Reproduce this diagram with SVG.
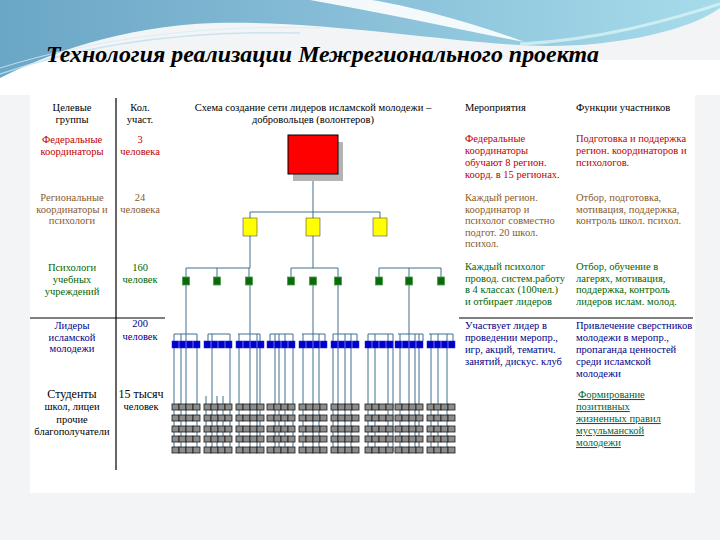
<svg xmlns="http://www.w3.org/2000/svg" width="720" height="540" viewBox="0 0 720 540">
<defs>
<linearGradient id="sky" x1="0" y1="0" x2="1" y2="0">
<stop offset="0" stop-color="#6aa6c6"/>
<stop offset="0.45" stop-color="#86bcd6"/>
<stop offset="1" stop-color="#a6dcea"/>
</linearGradient>
<style>
.t{font-size:10.5px}
.c{text-anchor:middle}
.h{fill:#000}
.r1{fill:#c00000}
.r2{fill:#8a5a2b}
.r3{fill:#006600}
.r4{fill:#000088}
.r5{fill:#000}
.u{fill:#006633;text-decoration:underline}
.ln{stroke:#3e6f8e;stroke-width:1;fill:none}
.rule{stroke:#000;stroke-width:1.2;fill:none}
.blue{fill:#0000cc;stroke:#2020e0;stroke-width:0.5}
.sep{stroke:#8c8cff;stroke-width:0.8}
.cell{fill:#8c8c8c;stroke:#1a1a1a;stroke-width:0.8}
.grn{fill:#0b6b0b;stroke:#46a046;stroke-width:0.8}
.yel{fill:#ffff00;stroke:#333;stroke-width:0.5}
</style>
</defs>
<rect x="0" y="0" width="720" height="540" fill="#f2f4f6"/>
<rect x="30" y="70" width="665" height="423" fill="#ffffff"/>
<rect x="0" y="60" width="720" height="35" fill="#ffffff"/>
<g id="header">
<path d="M0,0 H720 V8 C690,30 620,46 548,46 C470,46 330,20 215,23 C120,26 45,55 0,78 Z" fill="url(#sky)"/>
<path d="M310,0 C390,14 460,30 525,42 C470,22 410,6 372,0 Z" fill="#ffffff" opacity="0.9"/>
<path d="M520,44 C600,40 670,20 720,4" stroke="#d8f3f8" stroke-width="3" fill="none" opacity="0.8"/>
<path d="M0,74 C80,46 180,30 300,33" stroke="#bfe0ee" stroke-width="1.5" fill="none" opacity="0.8"/>
<path d="M0,68 C90,40 200,24 320,28" stroke="#d6ecf5" stroke-width="1" fill="none" opacity="0.8"/>
</g>
<text x="46" y="62" font-family="'Liberation Serif','Times New Roman',serif" font-size="23" font-weight="bold" font-style="italic" fill="#000" textLength="553" lengthAdjust="spacingAndGlyphs">Технология реализации Межрегионального проекта</text>

<g id="rules">
<line class="rule" x1="116" y1="98" x2="116" y2="470"/>
<line class="rule" x1="30" y1="318" x2="165" y2="318"/>
<line class="rule" x1="459" y1="318" x2="693" y2="318"/>
</g>

<g id="col-headers" class="t h" font-family="'Liberation Serif','Times New Roman',serif">
<text class="c" x="72" y="111">Целевые</text>
<text class="c" x="72" y="123">группы</text>
<text class="c" x="140" y="111">Кол.</text>
<text class="c" x="140" y="123">участ.</text>
<text class="c" x="313" y="111">Схема создание сети лидеров исламской молодежи –</text>
<text class="c" x="313" y="123">добровольцев (волонтеров)</text>
<text x="465" y="111">Мероприятия</text>
<text x="576" y="111">Функции участников</text>
</g>

<g id="row1" class="t r1" font-family="'Liberation Serif','Times New Roman',serif">
<text class="c" x="72" y="143">Федеральные</text>
<text class="c" x="72" y="155">координаторы</text>
<text class="c" x="140" y="143">3</text>
<text class="c" x="140" y="155">человека</text>
<text x="465" y="142">Федеральные</text>
<text x="465" y="154">координаторы</text>
<text x="465" y="166">обучают 8 регион.</text>
<text x="465" y="178">коорд. в 15 регионах.</text>
<text x="576" y="142">Подготовка и поддержка</text>
<text x="576" y="154">регион. координаторов и</text>
<text x="576" y="166">психологов.</text>
</g>

<g id="row2" class="t r2" font-family="'Liberation Serif','Times New Roman',serif">
<text class="c" x="72" y="201">Региональные</text>
<text class="c" x="72" y="212.5">координаторы и</text>
<text class="c" x="72" y="224">психологи</text>
<text class="c" x="140" y="201">24</text>
<text class="c" x="140" y="212.5">человека</text>
<text x="465" y="201">Каждый регион.</text>
<text x="465" y="212.5">координатор и</text>
<text x="465" y="224">психолог совместно</text>
<text x="465" y="235.5">подгот. 20 школ.</text>
<text x="465" y="247">психол.</text>
<text x="576" y="201">Отбор, подготовка,</text>
<text x="576" y="212.5">мотивация, поддержка,</text>
<text x="576" y="224">контроль школ. психол.</text>
</g>

<g id="row3" class="t r3" font-family="'Liberation Serif','Times New Roman',serif">
<text class="c" x="72" y="271">Психологи</text>
<text class="c" x="72" y="283">учебных</text>
<text class="c" x="72" y="295">учреждений</text>
<text class="c" x="140" y="271">160</text>
<text class="c" x="140" y="283">человек</text>
<text x="465" y="270">Каждый психолог</text>
<text x="465" y="281.5">провод. систем.работу</text>
<text x="465" y="293">в 4 классах (100чел.)</text>
<text x="465" y="304.5">и отбирает лидеров</text>
<text x="576" y="270">Отбор, обучение в</text>
<text x="576" y="281.5">лагерях, мотивация,</text>
<text x="576" y="293">поддержка, контроль</text>
<text x="576" y="304.5">лидеров ислам. молод.</text>
</g>

<g id="row4" class="t r4" font-family="'Liberation Serif','Times New Roman',serif">
<text class="c" x="72" y="329">Лидеры</text>
<text class="c" x="72" y="340.5">исламской</text>
<text class="c" x="72" y="352">молодежи</text>
<text class="c" x="140" y="327">200</text>
<text class="c" x="140" y="340">человек</text>
<text x="465" y="329">Участвует лидер в</text>
<text x="465" y="341">проведении меропр.,</text>
<text x="465" y="353">игр, акций, тематич.</text>
<text x="465" y="365">занятий, дискус. клуб</text>
<text x="576" y="329">Привлечение сверстников</text>
<text x="576" y="341">молодежи в меропр.,</text>
<text x="576" y="353">пропаганда ценностей</text>
<text x="576" y="365">среди исламской</text>
<text x="576" y="377">молодежи</text>
</g>

<g id="row5" class="t r5" font-family="'Liberation Serif','Times New Roman',serif">
<text class="c" x="72" y="398" font-size="12">Студенты</text>
<text class="c" x="72" y="410">школ, лицеи</text>
<text class="c" x="72" y="423">прочие</text>
<text class="c" x="72" y="435">благополучатели</text>
<text class="c" x="141" y="398" font-size="12">15 тысяч</text>
<text class="c" x="141" y="410">человек</text>
<text class="u" x="578" y="398">Формирование</text>
<text class="u" x="576" y="410">позитивных</text>
<text class="u" x="576" y="422">жизненных правил</text>
<text class="u" x="576" y="434">мусульманской</text>
<text class="u" x="576" y="446">молодежи</text>
</g>

<g id="connectors" class="ln">
<line x1="313" y1="181" x2="313" y2="212"/>
<line x1="250" y1="212" x2="380" y2="212"/>
<line x1="250" y1="212" x2="250" y2="218"/>
<line x1="313" y1="212" x2="313" y2="218"/>
<line x1="380" y1="212" x2="380" y2="218"/>
<line x1="250" y1="236" x2="250" y2="268"/>
<line x1="313" y1="236" x2="313" y2="268"/>
<line x1="186" y1="268" x2="250" y2="268"/>
<line x1="291" y1="268" x2="338" y2="268"/>
<line x1="379" y1="268" x2="441" y2="268"/>
<path d="M186,268V277 M217,268V277 M249,268V277 M291,268V277 M338,268V277 M379,268V277 M409,268V277 M441,268V277"/>
<path d="M186,285V334 M250,285V334 M313,285V334 M338,285V334 M409,285V334"/>
<path d="M174,334H197 M208,334H230 M238,334H260 M270,334H293 M302,334H325 M333,334H357 M368,334H393 M398,334H423 M429,334H453"/>
<path d="M174,334V452 M181,334V452 M186,334V452 M197,334V452"/>
<path d="M212,334V452 M230,334V452 M208,334V341 M206,396V452 M217,396V452 M223,396V452"/>
<path d="M239,334V452 M250,334V452 M257,334V452 M260,334V452"/>
<path d="M275,334V452 M279,334V452 M285,334V452 M293,334V452 M270,334V341"/>
<path d="M303,334V452 M313,334V452 M319,334V452 M325,334V341"/>
<path d="M333,334V452 M338,334V452 M345,334V452 M351,334V452 M357,334V341"/>
<path d="M368,334V452 M375,334V452 M388,334V452 M393,334V452"/>
<path d="M400,334V452 M409,334V452 M415,334V452 M419,334V452 M423,334V341"/>
<path d="M431,334V452 M438,334V452 M447,334V452 M453,334V341"/>
</g>

<g id="node-federal">
<rect x="293" y="142" width="50" height="39" fill="#b4b4b4"/>
<rect x="288" y="135" width="50" height="39" fill="#ff0000" stroke="#000" stroke-width="1"/>
</g>
<g id="node-regional">
<rect class="yel" x="243" y="218" width="14" height="18"/>
<rect class="yel" x="306" y="218" width="14" height="18"/>
<rect class="yel" x="373" y="218" width="14" height="18"/>
</g>
<g id="node-psychologists">
<rect class="grn" x="182.5" y="277" width="7" height="8"/>
<rect class="grn" x="213.5" y="277" width="7" height="8"/>
<rect class="grn" x="245.5" y="277" width="7" height="8"/>
<rect class="grn" x="287.5" y="277" width="7" height="8"/>
<rect class="grn" x="309.5" y="277" width="7" height="8"/>
<rect class="grn" x="334.5" y="277" width="7" height="8"/>
<rect class="grn" x="375.5" y="277" width="7" height="8"/>
<rect class="grn" x="405.5" y="277" width="7" height="8"/>
<rect class="grn" x="437.5" y="277" width="7" height="8"/>
</g>
<g id="node-leaders">
<rect class="blue" x="172" y="341" width="28" height="7"/>
<rect class="blue" x="204" y="341" width="28" height="7"/>
<rect class="blue" x="236" y="341" width="28" height="7"/>
<rect class="blue" x="267" y="341" width="28" height="7"/>
<rect class="blue" x="299" y="341" width="28" height="7"/>
<rect class="blue" x="331" y="341" width="28" height="7"/>
<rect class="blue" x="365" y="341" width="28" height="7"/>
<rect class="blue" x="395" y="341" width="28" height="7"/>
<rect class="blue" x="427" y="341" width="28" height="7"/>
<path class="sep" d="M179,341V348 M186,341V348 M193,341V348 M211,341V348 M218,341V348 M225,341V348 M243,341V348 M250,341V348 M257,341V348 M274,341V348 M281,341V348 M288,341V348 M306,341V348 M313,341V348 M320,341V348 M338,341V348 M345,341V348 M352,341V348 M372,341V348 M379,341V348 M386,341V348 M402,341V348 M409,341V348 M416,341V348 M434,341V348 M441,341V348 M448,341V348"/>
</g>
<g id="node-students">
<g id="grid-row">
<rect class="cell" x="172" y="404" width="7" height="6"/><rect class="cell" x="179" y="404" width="7" height="6"/><rect class="cell" x="186" y="404" width="7" height="6"/><rect class="cell" x="193" y="404" width="7" height="6"/>
<rect class="cell" x="204" y="404" width="7" height="6"/><rect class="cell" x="211" y="404" width="7" height="6"/><rect class="cell" x="218" y="404" width="7" height="6"/><rect class="cell" x="225" y="404" width="7" height="6"/>
<rect class="cell" x="236" y="404" width="7" height="6"/><rect class="cell" x="243" y="404" width="7" height="6"/><rect class="cell" x="250" y="404" width="7" height="6"/><rect class="cell" x="257" y="404" width="7" height="6"/>
<rect class="cell" x="267" y="404" width="7" height="6"/><rect class="cell" x="274" y="404" width="7" height="6"/><rect class="cell" x="281" y="404" width="7" height="6"/><rect class="cell" x="288" y="404" width="7" height="6"/>
<rect class="cell" x="299" y="404" width="7" height="6"/><rect class="cell" x="306" y="404" width="7" height="6"/><rect class="cell" x="313" y="404" width="7" height="6"/><rect class="cell" x="320" y="404" width="7" height="6"/>
<rect class="cell" x="331" y="404" width="7" height="6"/><rect class="cell" x="338" y="404" width="7" height="6"/><rect class="cell" x="345" y="404" width="7" height="6"/><rect class="cell" x="352" y="404" width="7" height="6"/>
<rect class="cell" x="365" y="404" width="7" height="6"/><rect class="cell" x="372" y="404" width="7" height="6"/><rect class="cell" x="379" y="404" width="7" height="6"/><rect class="cell" x="386" y="404" width="7" height="6"/>
<rect class="cell" x="395" y="404" width="7" height="6"/><rect class="cell" x="402" y="404" width="7" height="6"/><rect class="cell" x="409" y="404" width="7" height="6"/><rect class="cell" x="416" y="404" width="7" height="6"/>
<rect class="cell" x="427" y="404" width="7" height="6"/><rect class="cell" x="434" y="404" width="7" height="6"/><rect class="cell" x="441" y="404" width="7" height="6"/><rect class="cell" x="448" y="404" width="7" height="6"/>
</g>
<use href="#grid-row" y="11"/>
<use href="#grid-row" y="22"/>
<use href="#grid-row" y="32"/>
<use href="#grid-row" y="43"/>
</g>
</svg>
